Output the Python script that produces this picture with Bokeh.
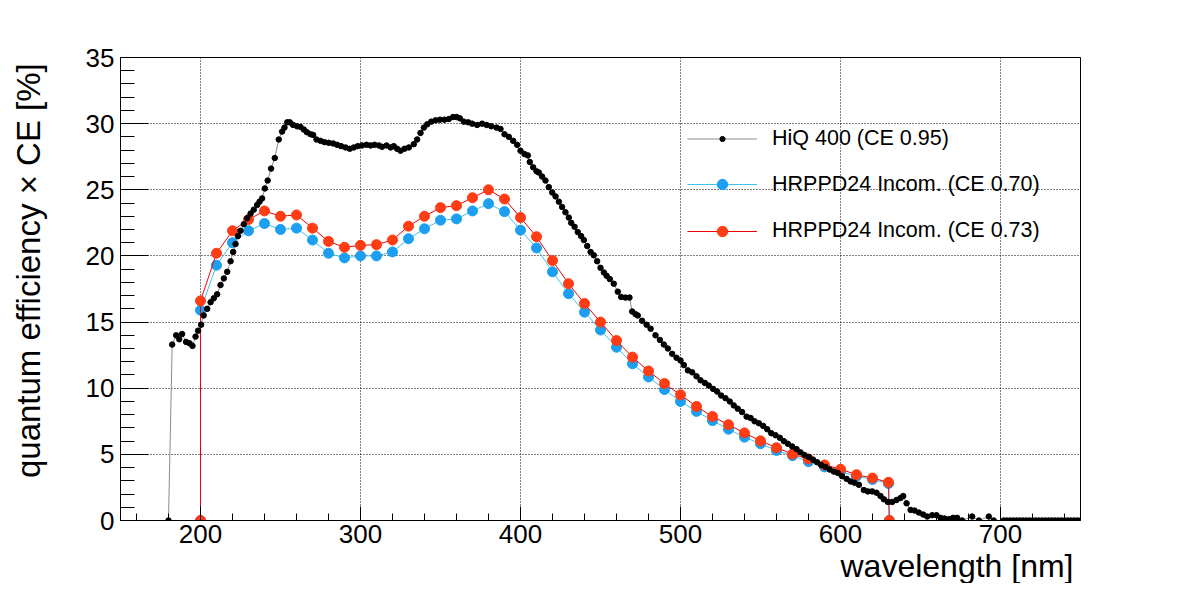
from bokeh.plotting import figure
from bokeh.models import Range1d, SingleIntervalTicker, Legend, LegendItem, Title
from bokeh.embed import file_html
from bokeh.resources import INLINE

# ---------------- data ----------------
hiq_wl = [180.0, 182.3, 184.8, 186.7, 188.5, 191.0, 193.1, 195.0, 196.9, 198.5,
          200.4, 202.0, 204.2, 206.3, 208.3, 210.4, 212.5, 214.6, 216.7, 218.8,
          220.4, 221.9, 223.4, 225.0, 227.1, 229.2, 231.3, 233.3, 235.4, 236.9,
          238.5, 240.2, 242.0, 244.1, 246.4, 248.9, 251.0, 252.5, 254.2, 255.8,
          257.9, 260.4, 262.5, 264.6, 266.5, 268.8, 270.4, 272.5, 275.0, 277.5,
          280.2, 282.9, 285.4, 287.9, 290.6, 293.3, 295.8, 298.3, 301.0, 303.8,
          306.3, 308.8, 311.5, 313.5, 316.3, 318.8, 320.8, 322.9, 325.0, 327.5,
          330.2, 333.3, 335.4, 337.5, 339.6, 341.7, 344.2, 346.9, 349.6, 352.5,
          355.2, 357.9, 360.0, 362.1, 364.6, 367.3, 369.8, 372.9, 376.0, 378.8,
          381.7, 385.0, 387.5, 390.0, 392.7, 395.4, 397.9, 400.0, 402.5, 404.6,
          405.8, 407.9, 410.0, 411.5, 413.5, 415.6, 417.7, 419.8, 421.9, 424.0,
          426.0, 428.1, 430.2, 431.7, 433.8, 435.8, 437.9, 439.6, 441.7, 443.8,
          445.8, 447.9, 450.0, 452.1, 453.8, 455.8, 458.3, 460.8, 462.9, 465.6,
          468.1, 469.8, 471.9, 473.3, 476.0, 478.8, 481.3, 484.4, 487.1, 489.6,
          492.1, 494.8, 497.5, 500.0, 502.1, 504.6, 507.3, 510.0, 512.5, 515.2,
          517.7, 520.4, 522.9, 525.4, 528.1, 530.8, 533.3, 535.8, 538.5, 541.3,
          543.8, 546.3, 549.0, 551.7, 554.2, 556.7, 559.4, 562.1, 564.6, 567.1,
          569.8, 572.5, 575.0, 577.5, 580.2, 582.9, 585.4, 587.9, 590.6, 593.3,
          595.8, 598.3, 601.0, 603.8, 606.3, 608.8, 611.5, 614.6, 617.1, 619.8,
          622.5, 625.0, 627.1, 629.6, 632.3, 635.0, 637.5, 639.2, 641.3, 643.8,
          646.3, 649.0, 651.7, 654.2, 657.3, 660.0, 662.5, 665.0, 667.7, 670.4,
          672.9, 676.0, 682.3, 686.5, 692.7, 695.8,
          702.0, 704.0, 706.0, 708.0, 710.0, 712.0, 714.0, 716.0, 718.0, 720.0,
          722.0, 724.0, 726.0, 728.0, 730.0, 732.0, 734.0, 736.0, 738.0, 740.0,
          742.0, 744.0, 746.0, 748.0, 750.0]
hiq_qe = [0.0, 13.3, 14.0, 13.7, 14.1, 13.5, 13.4, 13.2, 13.9, 14.35,
          14.8, 15.5, 16.0, 16.5, 16.8, 17.1, 17.8, 18.3, 18.8, 19.6,
          20.3, 20.9, 21.5, 21.9, 22.4, 22.85, 23.2, 23.5, 23.85, 24.1,
          24.35, 25.1, 25.7, 26.6, 27.4, 28.8, 29.4, 29.7, 30.1, 30.1,
          29.9, 29.8, 29.75, 29.55, 29.35, 29.2, 29.15, 28.8, 28.7, 28.6,
          28.55, 28.5, 28.4, 28.3, 28.2, 28.1, 28.2, 28.3, 28.35, 28.4,
          28.35, 28.4, 28.35, 28.25, 28.35, 28.2, 28.3, 28.1, 27.95, 28.1,
          28.2, 28.45, 28.8, 29.3, 29.7, 29.95, 30.15, 30.25, 30.3, 30.3,
          30.35, 30.5, 30.5, 30.4, 30.15, 30.1, 30.0, 29.9, 30.0, 29.9,
          29.8, 29.7, 29.6, 29.2, 29.0, 28.7, 28.4, 27.95, 27.7, 27.6,
          27.1, 26.7, 26.4, 26.3, 26.0, 25.7, 25.2, 24.8, 24.5, 24.1,
          23.7, 23.3, 22.9, 22.5, 22.2, 21.8, 21.5, 21.2, 20.75, 20.3,
          20.05, 19.6, 19.1, 18.75, 18.5, 18.25, 17.9, 17.3, 16.9, 16.85,
          16.85, 15.8, 15.6, 15.5, 15.1, 14.8, 14.5, 14.0, 13.65, 13.3,
          13.0, 12.6, 12.3, 12.1, 11.75, 11.35, 11.2, 10.9, 10.6, 10.4,
          10.2, 9.95, 9.75, 9.45, 9.25, 9.0, 8.7, 8.45, 8.2, 7.85,
          7.75, 7.5, 7.35, 7.15, 6.9, 6.6, 6.45, 6.25, 6.0, 5.8,
          5.6, 5.4, 5.15, 4.95, 4.8, 4.6, 4.4, 4.2, 4.05, 3.85,
          3.7, 3.6, 3.35, 3.15, 2.95, 2.85, 2.7, 2.3, 2.2, 2.2,
          2.1, 1.85, 1.6, 1.4, 1.4, 1.55, 1.7, 1.85, 1.3, 0.8,
          0.75, 0.6, 0.45, 0.3, 0.4, 0.4, 0.2, 0.15, 0.1, 0.2,
          0.2, 0.0, 0.3, 0.0, 0.3, 0.0,
          0.0, 0.0, 0.0, 0.0, 0.0, 0.0, 0.0, 0.0, 0.0, 0.0,
          0.0, 0.0, 0.0, 0.0, 0.0, 0.0, 0.0, 0.0, 0.0, 0.0,
          0.0, 0.0, 0.0, 0.0, 0.0]

hrppd_wl = [140, 200, 200, 210, 220, 230, 240, 250, 260, 270, 280, 290, 300,
            310, 320, 330, 340, 350, 360, 370, 380, 390, 400, 410, 420, 430,
            440, 450, 460, 470, 480, 490, 500, 510, 520, 530, 540, 550, 560,
            570, 580, 590, 600, 610, 620, 630, 630.5, 760]
hrppd70_qe = [0, 0, 15.9, 19.3, 21.0, 21.9, 22.45, 22.0, 22.1, 21.2, 20.2, 19.85, 20.0,
              20.0, 20.3, 21.3, 22.05, 22.7, 22.8, 23.4, 23.95, 23.35, 21.95, 20.6, 18.8, 17.15,
              15.75, 14.4, 13.1, 11.85, 10.85, 9.9, 9.0, 8.25, 7.55, 6.9, 6.3, 5.8, 5.3,
              4.9, 4.45, 4.05, 3.7, 3.35, 3.1, 2.8, 0, 0]
hrppd73_qe = [0, 0, 16.6, 20.2, 21.9, 22.75, 23.4, 23.0, 23.1, 22.1, 21.1, 20.65, 20.8,
              20.85, 21.2, 22.25, 23.0, 23.65, 23.8, 24.4, 25.0, 24.3, 22.9, 21.45, 19.65, 17.9,
              16.4, 15.0, 13.6, 12.35, 11.3, 10.35, 9.5, 8.62, 7.86, 7.24, 6.62, 6.02, 5.5,
              5.02, 4.65, 4.2, 3.88, 3.46, 3.21, 2.89, 0, 0]

labels = ["HiQ 400 (CE 0.95)", "HRPPD24 Incom. (CE 0.70)", "HRPPD24 Incom. (CE 0.73)"]
x_title = "wavelength [nm]"
y_title = "quantum efficiency \u00d7 CE [%]"

FONT = "Liberation Sans"
FW, FH = 960, 463          # plot frame size
BL, BR, BT = 120, 104, 57  # borders

p = figure(frame_width=FW, frame_height=FH, output_backend="svg", toolbar_location=None,
           x_range=Range1d(150, 750), y_range=Range1d(0, 35),
           min_border_left=BL, min_border_right=BR, min_border_top=BT,
           min_border_bottom=0)
p.background_fill_color = "white"
p.border_fill_color = "white"
p.outline_line_color = "black"
p.outline_line_width = 1

# axes
p.xaxis.ticker = SingleIntervalTicker(interval=100, num_minor_ticks=5)
p.yaxis.ticker = SingleIntervalTicker(interval=5, num_minor_ticks=5)
for ax in (p.xaxis, p.yaxis):
    ax.axis_line_color = "black"
    ax.major_tick_line_color = "black"
    ax.minor_tick_line_color = "black"
    ax.major_tick_out = 0
    ax.minor_tick_out = 0
    ax.major_label_text_font = FONT
    ax.major_label_text_font_size = "26px"
    ax.major_label_text_color = "black"
p.xaxis.major_tick_in = 14
p.xaxis.minor_tick_in = 7
p.yaxis.major_tick_in = 28
p.yaxis.minor_tick_in = 14
p.xaxis.major_label_standoff = 4
p.yaxis.major_label_standoff = 6

# x title, ROOT style (aligned to the right end of the axis)
p.add_layout(Title(text=x_title, align="right", offset=7, standoff=0,
                   text_font=FONT, text_font_size="32px", text_font_style="normal",
                   text_color="black"), "below")
# y title: axis label; the leading no-break spaces move it towards the top end,
# as ROOT aligns it
p.yaxis.axis_label = "\u00a0" * 4 + y_title
p.yaxis.axis_label_standoff = 36
p.yaxis.axis_label_text_font = FONT
p.yaxis.axis_label_text_font_size = "33px"
p.yaxis.axis_label_text_font_style = "normal"
p.yaxis.axis_label_text_color = "black"

# grid
for g in (p.xgrid, p.ygrid):
    g.grid_line_color = "black"
    g.grid_line_dash = "1 2"
    g.grid_line_width = 1
    g.grid_line_alpha = 1.0

# series
r70_line = p.line(hrppd_wl, hrppd70_qe, line_color="#3cc3f2", line_width=1)
r70_pts = p.scatter(hrppd_wl, hrppd70_qe, size=10, fill_color="#1c9ff0", line_color="#1c9ff0")
r73_line = p.line(hrppd_wl, hrppd73_qe, line_color="#f00000", line_width=1)
r73_pts = p.scatter(hrppd_wl, hrppd73_qe, size=10, fill_color="#ff3c14", line_color="#ff3c14")
hiq_line = p.line(hiq_wl, hiq_qe, line_color="#8c8c8c", line_width=1)
hiq_pts = p.scatter(hiq_wl, hiq_qe, size=5.5, fill_color="black", line_color="black")

# one legend per entry, so that each marker keeps its own size
entries = [
    (labels[0], [hiq_line, hiq_pts], 13, 368.7),
    (labels[1], [r70_line, r70_pts], 26, 323.0),
    (labels[2], [r73_line, r73_pts], 26, 276.5),
]
for text, rends, gh, ly in entries:
    leg = Legend(items=[LegendItem(label=text, renderers=rends)], location=(567, ly))
    leg.background_fill_alpha = 0
    leg.border_line_alpha = 0
    leg.padding = 0
    leg.margin = 0
    leg.spacing = 0
    leg.glyph_width = 70
    leg.glyph_height = gh
    leg.label_height = gh
    leg.label_standoff = 15
    leg.label_text_font = FONT
    leg.label_text_font_size = "21.5px"
    leg.label_text_color = "black"
    p.add_layout(leg, "center")

open("out.html", "w").write(file_html(p, INLINE))
